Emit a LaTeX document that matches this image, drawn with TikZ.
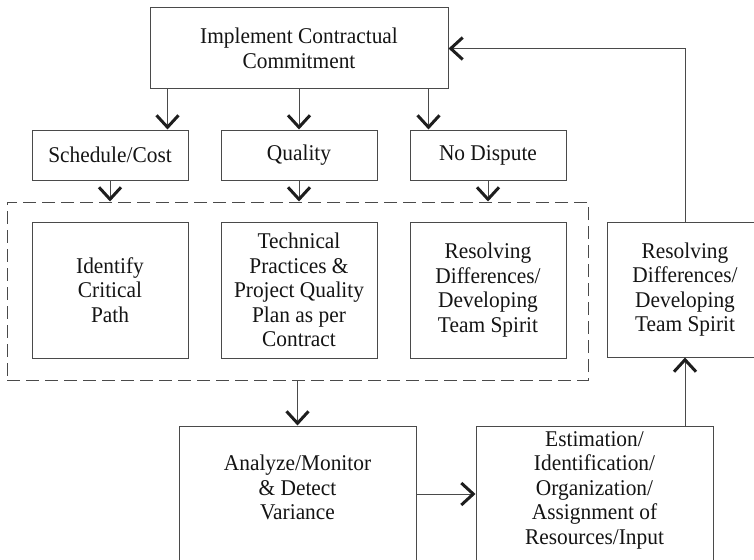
\documentclass[tikz,border=0pt]{standalone}
\usepackage{fontspec}
\setmainfont{Liberation Serif}[FakeStretch=0.95]
\usetikzlibrary{arrows.meta}
\definecolor{linegray}{HTML}{4A4A4A}
\definecolor{tipgray}{HTML}{1E1E1E}

\begin{document}
\begin{tikzpicture}[x=1pt,y=-1pt,
  box/.style={draw=linegray, line width=1pt, rectangle, inner sep=0pt},
  lbl/.style={align=center, font=\fontsize{22.5}{24.5}\selectfont, text=black!92},
  conn/.style={draw=linegray, line width=1pt,
    -{Straight Barb[length=12pt,width=22pt,line width=3pt,color=tipgray]}},
  groupbox/.style={draw=linegray, line width=1pt, dash pattern=on 13pt off 6pt, inner sep=0pt}]

\useasboundingbox (0,0) rectangle (754,559);

% top level commitment
\node[box, lbl, minimum width=298pt, minimum height=81pt] (commit) at (299,48.5)
  {Implement Contractual\\Commitment};

% three aspects
\node[box, lbl, minimum width=156pt, minimum height=50pt] (sched)   at (110,155) {Schedule/Cost};
\node[box, lbl, minimum width=156pt, minimum height=50pt] (quality) at (299,155) {Quality};
\node[box, lbl, minimum width=156pt, minimum height=50pt] (nodisp)  at (488,155) {No Dispute};

% dashed group around the actions
\node[groupbox, minimum width=581pt, minimum height=178pt] (group) at (297.5,291) {};

\node[box, lbl, minimum width=156pt, minimum height=136pt] (critical) at (110,290)
  {Identify\\Critical\\Path};
\node[box, lbl, minimum width=156pt, minimum height=136pt] (techqual) at (299,290)
  {Technical\\Practices \&\\Project Quality\\Plan as per\\Contract};
\node[box, lbl, minimum width=156pt, minimum height=136pt] (resolve)  at (488,290)
  {Resolving\\Differences/\\Developing\\Team Spirit};

% right-hand box of the feedback loop
\node[box, lbl, minimum width=156pt, minimum height=135pt] (resolveR) at (685,289.5)
  {Resolving\\Differences/\\Developing\\Team Spirit};

% lower boxes (run past the bottom edge)
\node[box, minimum width=237pt, minimum height=174pt] (analyze) at (297.5,513) {};
\node[lbl] (analyzetxt) at (297.5,487.5) {Analyze/Monitor\\\& Detect\\Variance};
\node[box, minimum width=237pt, minimum height=174pt] (estim) at (594.5,513) {};
\node[lbl] (estimtxt) at (594.5,490)
  {Estimation/\\Identification/\\Organization/\\Assignment of\\Resources/Input};

% connectors
\draw[conn] ([xshift=18pt]commit.south west) -- ([xshift=18pt]commit.south west |- sched.north);
\draw[conn] (commit.south) -- (quality.north);
\draw[conn] ([xshift=-20pt]commit.south east) -- ([xshift=-20pt]commit.south east |- nodisp.north);

\draw[conn] (sched.south)   -- (sched.south |- group.north);
\draw[conn] (quality.south) -- (quality.south |- group.north);
\draw[conn] (nodisp.south)  -- (nodisp.south |- group.north);

\draw[conn] (group.south) -- (analyze.north);
\draw[conn] ([yshift=19pt]analyze.east) -- ([yshift=19pt]analyze.east -| estim.west);
\draw[conn] (estim.north -| resolveR.south) -- (resolveR.south);
\draw[conn] (resolveR.north) |- (commit.east);

\end{tikzpicture}
\end{document}
